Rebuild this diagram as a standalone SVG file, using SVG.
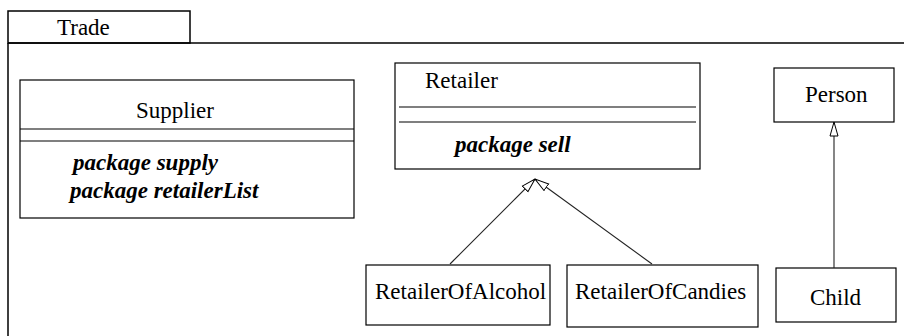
<svg xmlns="http://www.w3.org/2000/svg" width="904" height="336" viewBox="0 0 904 336">
<style>
.box{fill:#fff;stroke:#000;stroke-width:1.2}
.frame{fill:none;stroke:#000;stroke-width:1.5}
.sep{stroke:#000;stroke-width:1.2}
.t{font-family:"Liberation Serif","Times New Roman",serif;font-size:23px;fill:#000}
.op{font-family:"Liberation Serif","Times New Roman",serif;font-size:23px;font-weight:bold;font-style:italic;fill:#000}
.conn{fill:none;stroke:#222;stroke-width:1.1}
</style>
<defs>
<marker id="gen" markerUnits="userSpaceOnUse" viewBox="0 0 15 10" refX="14.5" refY="5" markerWidth="15" markerHeight="10" orient="auto">
<path d="M0.5,1 L14.5,5 L0.5,9 Z" fill="#fff" stroke="#000" stroke-width="1"/>
</marker>
</defs>
<rect width="904" height="336" fill="#fff"/>
<g id="package-Trade">
<rect class="frame" x="8" y="11" width="182" height="32"/>
<path class="frame" d="M8,43 H906 M8,43 V340"/>
<text class="t" x="57" y="35">Trade</text>
</g>
<g id="node-Supplier">
<rect class="box" x="20" y="80" width="334" height="138"/>
<line class="sep" x1="20" y1="129" x2="354" y2="129"/>
<line class="sep" x1="20" y1="141" x2="354" y2="141"/>
<text class="t" x="136" y="118">Supplier</text>
<text class="op" x="73" y="170">package supply</text>
<text class="op" x="70" y="198">package retailerList</text>
</g>
<g id="node-Retailer">
<rect class="box" x="395" y="63" width="305" height="106"/>
<line class="sep" x1="399" y1="107" x2="696" y2="107"/>
<line class="sep" x1="399" y1="122" x2="696" y2="122"/>
<text class="t" x="425" y="88">Retailer</text>
<text class="op" x="455" y="152">package sell</text>
</g>
<g id="node-RetailerOfAlcohol">
<rect class="box" x="366" y="265" width="184" height="60"/>
<text class="t" x="375" y="299">RetailerOfAlcohol</text>
</g>
<g id="node-RetailerOfCandies">
<rect class="box" x="567" y="265" width="191" height="62"/>
<text class="t" x="575" y="299">RetailerOfCandies</text>
</g>
<g id="node-Person">
<rect class="box" x="774" y="68" width="120" height="54"/>
<text class="t" x="805" y="102">Person</text>
</g>
<g id="node-Child">
<rect class="box" x="776" y="268" width="120" height="54"/>
<text class="t" x="810" y="305">Child</text>
</g>
<g id="connectors">
<line class="conn" x1="450" y1="264" x2="535" y2="179" marker-end="url(#gen)"/>
<line class="conn" x1="652" y1="264" x2="535" y2="179" marker-end="url(#gen)"/>
<line class="conn" x1="834" y1="268" x2="834" y2="122" marker-end="url(#gen)"/>
</g>
</svg>
